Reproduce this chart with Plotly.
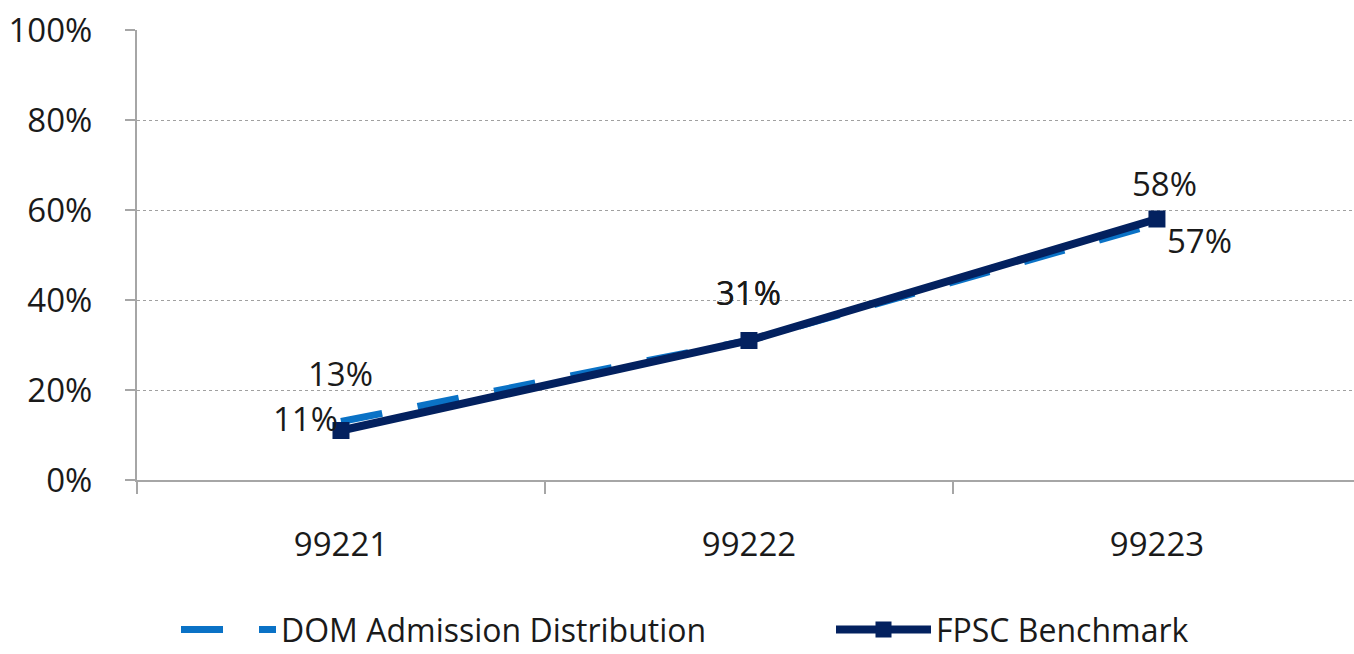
import plotly.graph_objects as go

# Chart data
categories = ["99221", "99222", "99223"]
dom_values = [13, 31, 57]
fpsc_values = [11, 31, 58]
series_names = ["DOM Admission Distribution", "FPSC Benchmark"]
y_ticks = [0, 20, 40, 60, 80, 100]

DOM_COLOR = "#0A72C6"
FPSC_COLOR = "#03215F"
AXIS_COLOR = "#A6A6A6"
TEXT_COLOR = "#1A1A1A"
FONT = "Open Sans"

fig = go.Figure()

fig.add_trace(go.Scatter(
    x=categories, y=dom_values, name=series_names[0], mode="lines",
    line=dict(color=DOM_COLOR, width=7, dash="42px,36px"),
    legend="legend",
))
fig.add_trace(go.Scatter(
    x=categories, y=fpsc_values, name=series_names[1], mode="lines+markers",
    line=dict(color=FPSC_COLOR, width=8),
    marker=dict(symbol="square", size=17, color=FPSC_COLOR),
    legend="legend2",
))

# Value labels, offset (px) from each point; x given as category index
dom_offsets = [(0, 48), (0, 48), (43, -17)]
fpsc_offsets = [(-35, 12), (0, 48), (8, 36)]
for vals, offs in ((dom_values, dom_offsets), (fpsc_values, fpsc_offsets)):
    for i, (v, (dx, dy)) in enumerate(zip(vals, offs)):
        fig.add_annotation(
            x=i, y=v, xref="x", yref="y", text=f"{v}%", showarrow=False,
            xshift=dx, yshift=dy,
            font=dict(family=FONT, size=33, color=TEXT_COLOR),
        )

legend_style = dict(
    orientation="h", xref="container", yref="container",
    y=0.037, yanchor="middle", xanchor="left",
    font=dict(family=FONT, size=32, color=TEXT_COLOR),
    itemwidth=95, bgcolor="rgba(0,0,0,0)",
)

fig.update_layout(
    width=1354, height=654,
    margin=dict(l=137, r=0, t=30, b=174),
    paper_bgcolor="white", plot_bgcolor="white",
    font=dict(family=FONT, size=33, color=TEXT_COLOR),
    showlegend=True,
    legend=dict(legend_style, x=176 / 1354),
    legend2=dict(legend_style, x=831 / 1354),
)

fig.update_xaxes(
    type="category", range=[-0.5, 2.483],
    showline=True, linecolor=AXIS_COLOR, linewidth=2,
    ticks="outside", tickson="boundaries", ticklen=12,
    tickcolor=AXIS_COLOR, tickwidth=2,
    showgrid=False, ticklabelstandoff=34,
    tickfont=dict(family=FONT, size=33, color=TEXT_COLOR),
)
fig.update_yaxes(
    range=[0, 100], tickmode="array", tickvals=y_ticks,
    ticktext=[f"{t}%" for t in y_ticks],
    showline=True, linecolor=AXIS_COLOR, linewidth=2,
    ticks="outside", ticklen=10, tickcolor=AXIS_COLOR, tickwidth=2,
    showgrid=True, gridcolor="#A0A0A0", gridwidth=1, griddash="dot",
    zeroline=False, ticklabelstandoff=26,
    tickfont=dict(family=FONT, size=33, color=TEXT_COLOR),
)

fig.write_html("out.html")
